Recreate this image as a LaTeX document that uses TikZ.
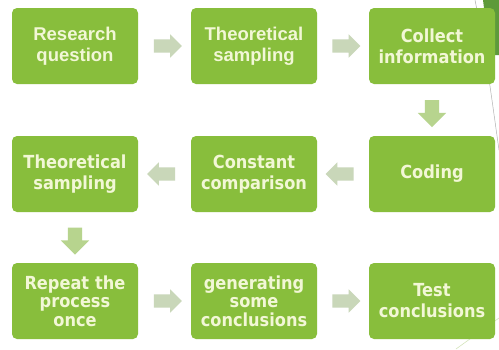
\documentclass[tikz,border=0pt]{standalone}
\usepackage{fontspec}
\setmainfont{DejaVu Sans Condensed}
\newfontfamily\arialfont{Liberation Sans}
\usetikzlibrary{shapes.arrows,calc}
\definecolor{boxgreen}{HTML}{88BE3C}
\definecolor{boxtext}{HTML}{F2F7D6}
\definecolor{arrgrey}{HTML}{C9D7B9}
\definecolor{arrgreen}{HTML}{B7D48E}
\definecolor{deco}{HTML}{5E9A3A}
\tikzset{
  stepbox/.style={fill=boxgreen, rounded corners=5pt, minimum width=126pt, minimum height=76pt,
    text width=124pt, align=center, text=boxtext, font=\fontsize{18}{21}\selectfont\bfseries, inner sep=0pt},
  threeline/.style={font=\fontsize{18}{18.5}\selectfont\bfseries},
  arialtext/.style={font=\arialfont\fontsize{18.5}{21}\selectfont\bfseries},
  harrow/.style={single arrow, draw=none, fill=arrgrey, inner xsep=0pt, inner ysep=6.5pt,
    single arrow head extend=5pt, minimum height=28pt, single arrow tip angle=90},
  varrow/.style={single arrow, draw=none, fill=arrgreen, inner xsep=7pt, inner ysep=0pt,
    single arrow head extend=7pt, minimum height=27pt, single arrow tip angle=90,
    shape border rotate=270},
}
\begin{document}
\begin{tikzpicture}[x=1pt,y=-1pt]
\useasboundingbox[fill=white] (0,0) rectangle (499,349);
% decoration
\fill[deco] (483,0) -- (499,0) -- (499,55) -- (490,55) -- cycle;
\draw[gray!60, line width=0.5pt] (475,0) .. controls (485,50) .. (499,150);
\draw[arrgreen!60, line width=0.6pt] (456,349) -- (499,318);
% boxes
\node[stepbox, arialtext] (b1) at (75,46) {Research\\question};
\node[stepbox, arialtext] (b2) at (254,46) {Theoretical\\sampling};
\node[stepbox] (b3) at (432,46) {Collect\\information};
\node[stepbox] (b4) at (432,174) {Coding};
\node[stepbox] (b5) at (254,174) {Constant\\comparison};
\node[stepbox] (b6) at (75,174) {Theoretical\\sampling};
\node[stepbox, threeline] (b7) at (75,301) {Repeat the\\process\\once};
\node[stepbox, threeline] (b8) at (254,301) {generating\\some\\conclusions};
\node[stepbox] (b9) at (432,301) {Test\\conclusions};
% arrows
\node[harrow] (a1) at ($(b1.east)!0.5!(b2.west)$) {};
\node[harrow] (a2) at ($(b2.east)!0.5!(b3.west)$) {};
\node[varrow] (a3) at ($(b3.south)!0.5!(b4.north)$) {};
\node[harrow, shape border rotate=180] (a4) at ($(b4.west)!0.5!(b5.east)$) {};
\node[harrow, shape border rotate=180] (a5) at ($(b5.west)!0.5!(b6.east)$) {};
\node[varrow] (a6) at ($(b6.south)!0.5!(b7.north)$) {};
\node[harrow] (a7) at ($(b7.east)!0.5!(b8.west)$) {};
\node[harrow] (a8) at ($(b8.east)!0.5!(b9.west)$) {};
\end{tikzpicture}
\end{document}
